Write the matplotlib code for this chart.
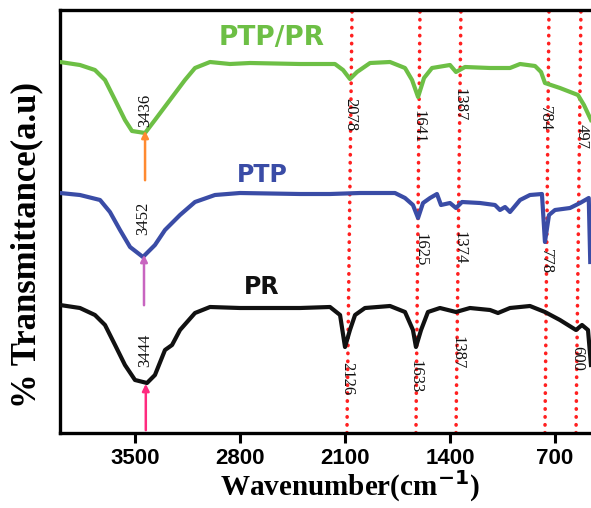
import matplotlib.pyplot as plt

# wavenumber (cm-1) and transmittance (a.u.)
ptp_pr_w = [4000, 3867, 3767, 3700, 3633, 3567, 3520, 3433, 3367, 3267, 3167, 3100, 3000,
            2867, 2733, 2400, 2167, 2113, 2067, 2020, 1933, 1800, 1700, 1653, 1613, 1573,
            1520, 1400, 1360, 1300, 1133, 1000, 933, 833, 793, 767, 667, 547, 507, 460]
ptp_pr_t = [371, 368, 363, 353, 333, 313, 302, 300, 313, 333, 353, 365, 371,
            369, 370, 369, 369, 363, 354, 361, 370, 371, 365, 353, 336, 355,
            365, 368, 361, 366, 365, 365, 369, 367, 361, 350, 345, 338, 328, 313]

ptp_w = [4000, 3867, 3733, 3667, 3600, 3533, 3447, 3367, 3300, 3200, 3100, 2967, 2800,
         2400, 2200, 2000, 1767, 1700, 1647, 1613, 1580, 1533, 1487, 1460, 1400, 1360,
         1320, 1200, 1100, 1067, 1033, 1000, 933, 867, 787, 767, 740, 700, 600, 533,
         475, 465]
ptp_t = [240, 238, 233, 221, 203, 186, 176, 188, 203, 218, 231, 238, 240,
         239, 239, 240, 240, 235, 228, 215, 230, 235, 239, 228, 230, 225,
         231, 230, 228, 223, 226, 221, 233, 238, 239, 191, 218, 223, 225, 230,
         235, 171]

pr_w = [4000, 3867, 3767, 3700, 3633, 3567, 3500, 3420, 3367, 3300, 3253, 3200, 3100,
        3000, 2800, 2400, 2200, 2133, 2100, 2067, 2033, 1967, 1800, 1700, 1647, 1627,
        1593, 1547, 1467, 1360, 1267, 1133, 1080, 1000, 867, 767, 667, 560, 520, 480, 460]
pr_t = [128, 125, 118, 108, 88, 68, 53, 50, 58, 83, 88, 103, 120,
        126, 125, 125, 126, 118, 86, 103, 118, 125, 127, 121, 103, 86,
        103, 121, 125, 121, 125, 123, 120, 125, 127, 121, 113, 103, 108, 103, 68]

# red dotted guide lines (bottom / top wavenumber)
guide_bot = [2087, 1627, 1360, 767, 560]
guide_top = [2053, 1600, 1327, 740, 527]

# peak labels: text, wavenumber, height, rotation
peak_txt = ['3436', '3452', '3444', '2078', '1641', '1387', '784', '497',
            '1625', '1374', '778', '2126', '1633', '1387', '600']
peak_w = [3433, 3447, 3433, 2067, 1613, 1340, 767, 520,
          1600, 1340, 760, 2087, 1627, 1347, 553]
peak_y = [323, 215, 83, 318, 306, 328, 314, 297,
          183, 185, 171, 54, 56, 80, 75]
peak_rot = [90, 90, 90, 270, 270, 270, 270, 270,
            270, 270, 270, 270, 270, 270, 270]

xticks = [3500, 2800, 2100, 1400, 700]

green = '#6dbf45'
blue = '#3a4ca6'

fig = plt.figure(figsize=(5.91, 5.08), dpi=100)
ax = fig.add_axes([60/591, 75/508, 1 - 60/591, 423/508])

for wb, wt in zip(guide_bot, guide_top):
    ax.plot([wb, wt], [0, 423], color='#ff2020', lw=2.6, ls=(0, (0.1, 2.1)),
            dash_capstyle='round', zorder=1)

ax.plot(ptp_pr_w, ptp_pr_t, color=green, lw=3, zorder=3)
ax.plot(ptp_w, ptp_t, color=blue, lw=3, zorder=3)
ax.plot(pr_w, pr_t, color='#111111', lw=3, zorder=3)

# arrows under the OH band
ax.annotate('', xy=(3433, 305), xytext=(3433, 250),
            arrowprops=dict(arrowstyle='-|>', color='#ff8a30', lw=1.8, mutation_scale=10))
ax.annotate('', xy=(3440, 181), xytext=(3440, 125),
            arrowprops=dict(arrowstyle='-|>', color='#c865c0', lw=1.8, mutation_scale=10))
ax.annotate('', xy=(3428, 52), xytext=(3428, 0),
            arrowprops=dict(arrowstyle='-|>', color='#ff2a7f', lw=1.8, mutation_scale=10))

for t, w, y, r in zip(peak_txt, peak_w, peak_y, peak_rot):
    ax.text(w, y, t, rotation=r, ha='center', va='center', fontsize=12,
            family='Liberation Serif', color='#111111', zorder=4)

sfont = ['Liberation Sans Narrow', 'DejaVu Sans']
ax.text(2587, 395, 'PTP/PR', color=green, fontsize=19, fontweight='bold',
        family=sfont, ha='center', va='center')
ax.text(2653, 258, 'PTP', color=blue, fontsize=17, fontweight='bold',
        family=sfont, ha='center', va='center')
ax.text(2653, 146, 'PR', color='#111111', fontsize=17, fontweight='bold',
        family=sfont, ha='center', va='center')

ax.set_xlim(4000, 460)
ax.set_ylim(0, 423)
ax.set_xticks(xticks)
ax.set_xticklabels([str(v) for v in xticks], fontsize=16, fontweight='bold',
                   family='Liberation Sans')
ax.set_yticks([])
ax.tick_params(axis='x', direction='out', length=7, width=2.2, pad=4)
for s in ['left', 'bottom', 'top']:
    ax.spines[s].set_linewidth(2.4)
ax.spines['right'].set_visible(False)

ax.set_xlabel('Wavenumber(cm$^{\\mathbf{-1}}$)', fontsize=21, fontweight='bold',
              family='Liberation Serif')
ax.xaxis.set_label_coords(0.546, -0.083)
ax.set_ylabel('% Transmittance(a.u)', fontsize=25, fontweight='bold',
              family='Liberation Serif')
ax.yaxis.set_label_coords(-0.062, 0.444)
ax.yaxis.label.set_va('center')

fig.savefig('out.png', dpi=100)
